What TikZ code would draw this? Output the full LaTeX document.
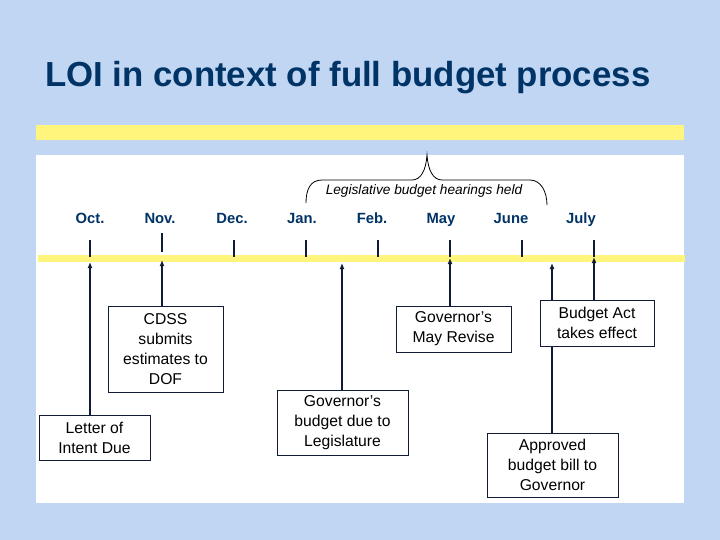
\documentclass[tikz,border=0pt]{standalone}
\usepackage{fontspec}
\setmainfont{Liberation Sans}
\usetikzlibrary{arrows.meta}
\definecolor{bgblue}{RGB}{192,214,242}
\definecolor{navy}{RGB}{0,51,102}
\definecolor{hiyel}{RGB}{255,245,125}
\definecolor{ink}{RGB}{16,28,52}
\tikzset{
  box/.style={draw=ink, line width=0.9pt, fill=white, align=center, inner sep=2pt,
    font=\fontsize{15.7}{20}\selectfont},
  month/.style={text=navy, font=\fontsize{14.8}{17}\selectfont\bfseries, anchor=base},
  tickmark/.style={draw=ink, line width=1.8pt},
  arr/.style={draw=ink, line width=1.8pt, -{Latex[length=6pt,width=5pt]}},
}
\begin{document}
\begin{tikzpicture}[x=1pt,y=-1pt]
\fill[bgblue] (0,0) rectangle (720,540);
\useasboundingbox (0,0) rectangle (720,540);
\node[anchor=base west, text=navy, font=\fontsize{34.8}{40}\selectfont\bfseries, inner sep=0pt] (title) at (45,87) {LOI in context of full budget process};
\fill[hiyel] (36,125) rectangle (684,140);
\fill[white] (36,155) rectangle (684,503);
% brace
\draw[black, line width=0.8pt] (306,203) .. controls (306,190) and (310,180) .. (322,180) -- (412,180) .. controls (421,180) and (426,170) .. (427,155) .. controls (428,170) and (433,180) .. (442,180) -- (530,180) .. controls (541,180) and (547,192) .. (547,205);
\node[font=\fontsize{13.7}{16}\selectfont\itshape, anchor=base, inner sep=0pt] (hear) at (424,195) {Legislative budget hearings held};
% timeline bar
\fill[hiyel] (38,255) rectangle (685,262);
% months
\node[month] (mOct) at (90,223) {Oct.};
\node[month] (mNov) at (160,223) {Nov.};
\node[month] (mDec) at (232,223) {Dec.};
\node[month] (mJan) at (302,223) {Jan.};
\node[month] (mFeb) at (372,223) {Feb.};
\node[month] (mMay) at (441,223) {May};
\node[month] (mJun) at (511,223) {June};
\node[month] (mJul) at (581,223) {July};
% ticks
\draw[tickmark] (90,240) -- (90,257);
\draw[tickmark] (162,233) -- (162,252);
\draw[tickmark] (234,240) -- (234,257);
\draw[tickmark] (306,240) -- (306,257);
\draw[tickmark] (378,240) -- (378,257);
\draw[tickmark] (450,240) -- (450,257);
\draw[tickmark] (522,240) -- (522,257);
\draw[tickmark] (594,240) -- (594,257);
% arrow targets
\coordinate (tOct) at (90,262);
\coordinate (tNov) at (162,260);
\coordinate (tGov) at (342,263);
\coordinate (tMay) at (450,258);
\coordinate (tApp) at (552,263);
\coordinate (tJul) at (594,257);
% boxes
\node[box, minimum width=111pt, minimum height=45pt] (letter) at (94.5,437.5) {Letter of\\Intent Due};
\node[box, minimum width=115pt, minimum height=86pt] (cdss) at (165.5,349) {CDSS\\submits\\estimates to\\DOF};
\node[box, minimum width=131pt, minimum height=65pt] (govb) at (342.5,422.5) {Governor’s\\budget due to\\Legislature};
\node[box, minimum width=115pt, minimum height=46pt] (mayr) at (453.5,329) {Governor’s\\May Revise};
\node[box, minimum width=131pt, minimum height=64pt] (appr) at (552.5,465) {Approved\\budget bill to\\Governor};
% arrows
\draw[arr] (letter.north -| tOct) -- (tOct);
\draw[arr] (cdss.north -| tNov) -- (tNov);
\draw[arr] (govb.north -| tGov) -- (tGov);
\draw[arr] (mayr.north -| tMay) -- (tMay);
\draw[arr] (appr.north -| tApp) -- (tApp);
\node[box, minimum width=114pt, minimum height=46pt] (bact) at (597,323) {Budget Act\\takes effect};
\draw[arr] (bact.north -| tJul) -- (tJul);
\end{tikzpicture}
\end{document}
